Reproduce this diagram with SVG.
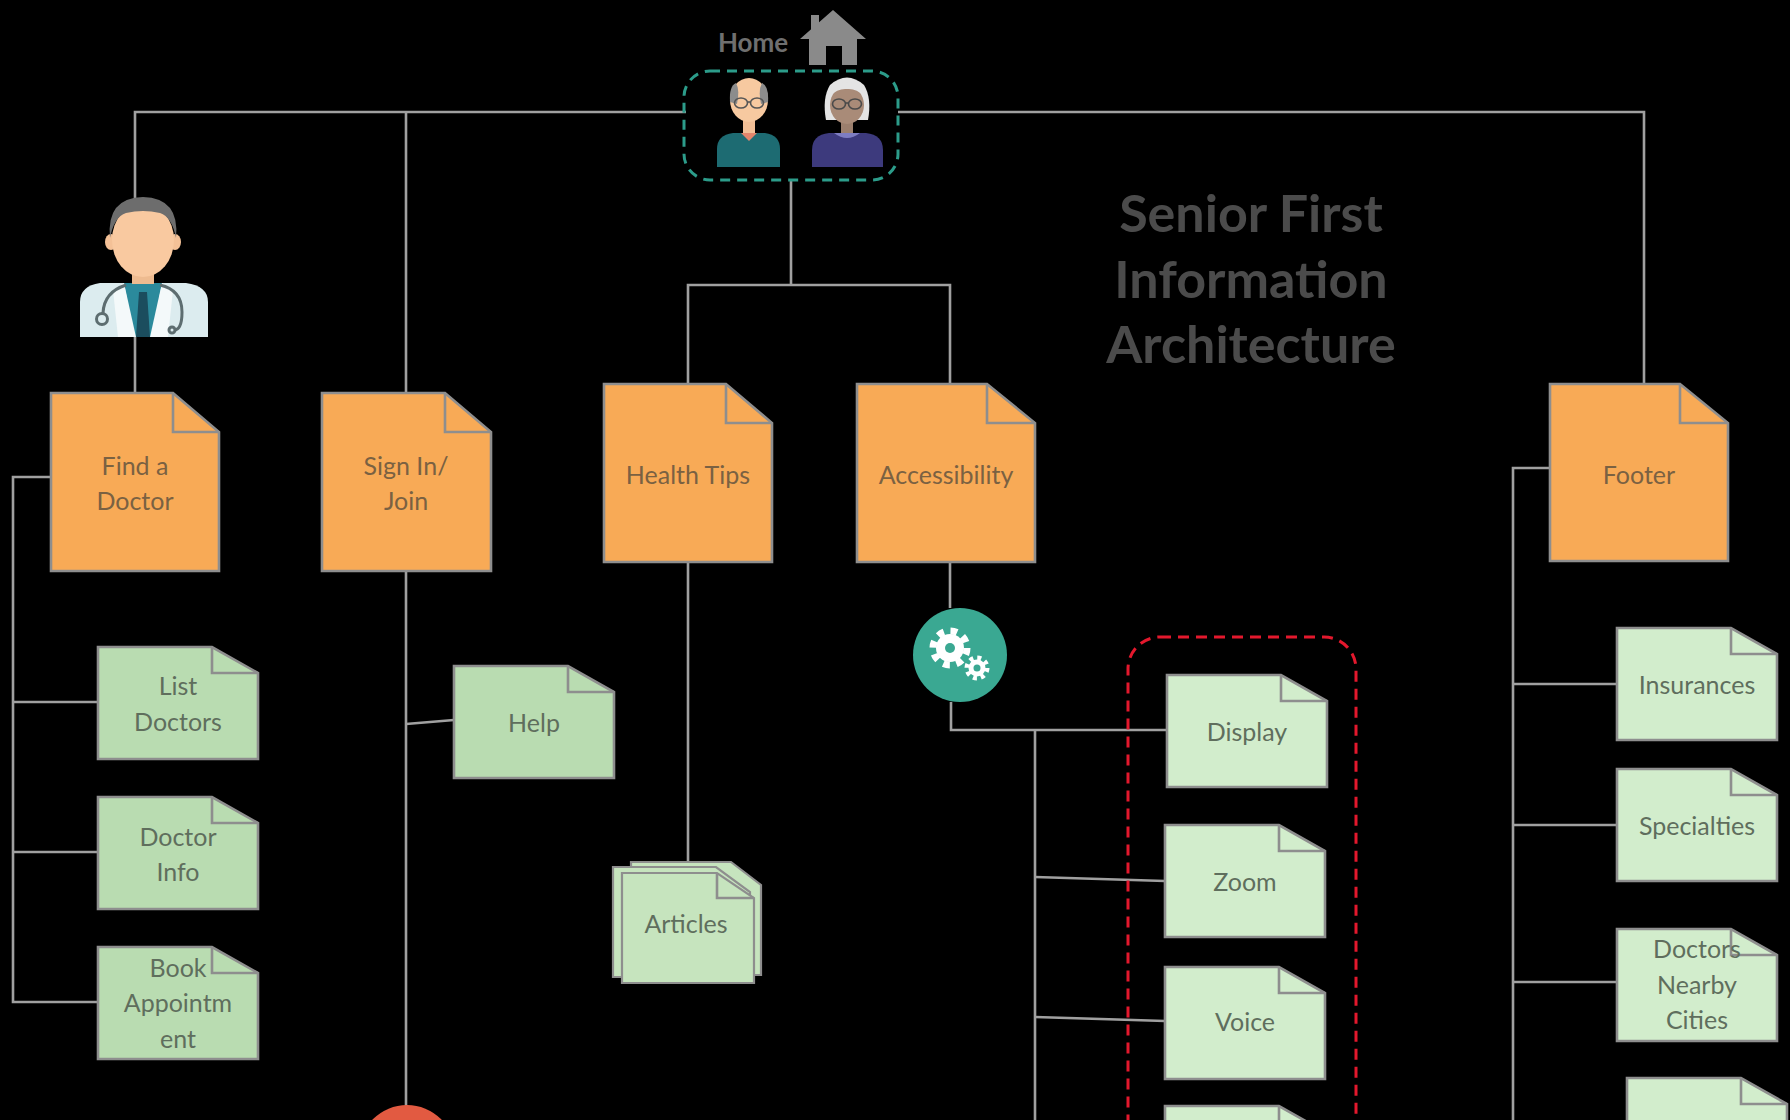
<svg xmlns="http://www.w3.org/2000/svg" width="1790" height="1120" viewBox="0 0 1790 1120">
  <style>
    .wire { fill: none; stroke: #a0a0a0; stroke-width: 2.6; }
    .page-o { fill: #F8AA56; stroke: #8e8e8e; stroke-width: 2.6; stroke-linejoin: miter; }
    .page-g { fill: #b9dcb1; stroke: #8e8e8e; stroke-width: 2.6; }
    .page-l { fill: #d2edcc; stroke: #8e8e8e; stroke-width: 2.6; }
    .page-a { fill: #c6e4be; stroke: #8e8e8e; stroke-width: 2.2; }
    .fold { fill: none; stroke: #8e8e8e; stroke-width: 2.6; }
    .lbl-o { font-family: Lato, "Liberation Sans", sans-serif; font-size: 25px; fill: #7a6142; text-anchor: middle; dominant-baseline: central; }
    .lbl-g { font-family: Lato, "Liberation Sans", sans-serif; font-size: 25px; fill: #5f6e5d; text-anchor: middle; dominant-baseline: central; }
    .title { font-family: Lato, "Liberation Sans", sans-serif; font-size: 52px; font-weight: bold; fill: #4b4b4b; text-anchor: middle; }
  </style>
  <defs>
    <path id="gpage" d="M0 0 H114 L160 26 V112 H0 Z"/>
    <path id="gfold" d="M114 0 V26 H160"/>
  </defs>
  <rect width="1790" height="1120" fill="#000"/>

  <!-- connectors -->
  <g id="connectors" class="wire">
    <path d="M135 394 V112 H686"/>
    <path d="M406 112 V394"/>
    <path d="M406 571 V1106"/>
    <path d="M898 112 H1644 V384"/>
    <path d="M791 180 V285"/>
    <path d="M688 384 V285 H950 V384"/>
    <path d="M51 477 H13 V1002 H98"/>
    <path d="M13 702 H98"/>
    <path d="M13 852 H98"/>
    <path d="M406 724 L454 720"/>
    <path d="M688 562 V862"/>
    <path d="M950 562 V608"/>
    <path d="M951 702 V730 H1167"/>
    <path d="M1035 730 V1120"/>
    <path d="M1035 877 L1165 881"/>
    <path d="M1035 1017 L1165 1021"/>
    <path d="M1550 468 H1513 V1120"/>
    <path d="M1513 684 H1617"/>
    <path d="M1513 825 H1617"/>
    <path d="M1513 982 H1617"/>
  </g>

  <!-- home: users group -->
  <g id="home">
    <text x="753" y="52" font-family="Lato, 'Liberation Sans', sans-serif" font-size="26" font-weight="bold" fill="#6f6f6f" text-anchor="middle">Home</text>
    <g fill="#8a8a8a">
      <rect x="811" y="15" width="8" height="16"/>
      <path d="M833 10 L866 39 H857 V65 H842 V46 H826 V65 H809 V39 H800 Z"/>
    </g>
    <rect x="684" y="71" width="214" height="109" rx="26" fill="none" stroke="#2c9c8a" stroke-width="3" stroke-dasharray="10 7"/>
    <!-- elderly man -->
    <g id="user-man">
      <path d="M717 167 V149 Q717 135 733 133 H765 Q780 135 780 149 V167 Z" fill="#1d6b72"/>
      <rect x="743" y="116" width="12" height="19" fill="#f2bf96"/>
      <path d="M741 133 L749 141 L757 133 Z" fill="#e3866c"/>
      <ellipse cx="749" cy="100" rx="19" ry="22" fill="#f7c9a0"/>
      <path d="M730 102 Q729 86 736 83 Q740 90 737 104 Z" fill="#8c8c8c"/>
      <path d="M768 102 Q769 86 762 83 Q758 90 761 104 Z" fill="#8c8c8c"/>
      <g fill="none" stroke="#555" stroke-width="1.6">
        <ellipse cx="741" cy="103" rx="6.5" ry="5"/>
        <ellipse cx="757" cy="103" rx="6.5" ry="5"/>
        <path d="M747.5 102 H750.5"/>
      </g>
    </g>
    <!-- elderly woman -->
    <g id="user-woman">
      <path d="M812 167 V150 Q812 135 829 133 H866 Q883 135 883 150 V167 Z" fill="#3d3a7d"/>
      <rect x="841" y="117" width="12" height="18" fill="#9c7f6d"/>
      <path d="M834 133 Q847 143 860 133 Z" fill="#7e7dc2"/>
      <path d="M826 120 Q822 98 830 85 Q847 70 864 85 Q872 98 868 120 Z" fill="#e4e4e4"/>
      <ellipse cx="847" cy="105" rx="17" ry="19" fill="#a98b78"/>
      <path d="M830 96 Q834 82 847 82 Q860 82 864 96 Q856 88 847 89 Q838 88 830 96 Z" fill="#e4e4e4"/>
      <g fill="none" stroke="#4a4a4a" stroke-width="1.6">
        <ellipse cx="839" cy="104" rx="6.5" ry="5"/>
        <ellipse cx="855" cy="104" rx="6.5" ry="5"/>
        <path d="M845.5 103 H848.5"/>
      </g>
    </g>
  </g>

  <!-- doctor persona -->
  <g id="doctor">
    <path d="M80 337 V302 Q80 286 100 283 L186 283 Q208 286 208 302 V337 Z" fill="#dcecef"/>
    <path d="M124 283 L162 283 L152 337 L134 337 Z" fill="#2b8a9c"/>
    <path d="M139 292 H147 L150 337 H136 Z" fill="#1b4d5e"/>
    <path d="M124 283 L136 337 L118 337 L113 290 Z" fill="#f4f9fa"/>
    <path d="M162 283 L150 337 L168 337 L173 290 Z" fill="#f4f9fa"/>
    <rect x="132" y="262" width="22" height="22" fill="#eebb90"/>
    <ellipse cx="111" cy="242" rx="6" ry="8" fill="#f4c197"/>
    <ellipse cx="175" cy="242" rx="6" ry="8" fill="#f4c197"/>
    <ellipse cx="143" cy="240" rx="31" ry="37" fill="#f9c9a0"/>
    <path d="M110 238 Q106 198 143 197 Q180 198 176 238 Q172 217 160 213 Q143 209 126 213 Q114 217 110 238 Z" fill="#6d6d6d"/>
    <g fill="none" stroke="#5d6d70" stroke-width="3">
      <path d="M126 285 Q104 292 103 313"/>
      <circle cx="102" cy="319" r="5.5"/>
      <path d="M160 285 Q182 290 182 312 Q182 330 174 330"/>
      <circle cx="172" cy="330" r="3"/>
    </g>
  </g>

  <!-- top level pages -->
  <g id="find-doctor">
    <path class="page-o" d="M51 393 H173 L219 432 V571 H51 Z"/>
    <path class="fold" d="M173 393 V432 H219"/>
    <text class="lbl-o" x="135" y="465">Find a</text>
    <text class="lbl-o" x="135" y="500">Doctor</text>
  </g>
  <g id="sign-in">
    <path class="page-o" d="M322 393 H445 L491 432 V571 H322 Z"/>
    <path class="fold" d="M445 393 V432 H491"/>
    <text class="lbl-o" x="406" y="465">Sign In/</text>
    <text class="lbl-o" x="406" y="500">Join</text>
  </g>
  <g id="health-tips">
    <path class="page-o" d="M604 384 H726 L772 423 V562 H604 Z"/>
    <path class="fold" d="M726 384 V423 H772"/>
    <text class="lbl-o" x="688" y="474">Health Tips</text>
  </g>
  <g id="accessibility">
    <path class="page-o" d="M857 384 H987 L1035 423 V562 H857 Z"/>
    <path class="fold" d="M987 384 V423 H1035"/>
    <text class="lbl-o" x="946" y="474">Accessibility</text>
  </g>
  <g id="footer">
    <path class="page-o" d="M1550 384 H1680 L1728 423 V561 H1550 Z"/>
    <path class="fold" d="M1680 384 V423 H1728"/>
    <text class="lbl-o" x="1639" y="474">Footer</text>
  </g>

  <text class="title" x="1251" y="232">Senior First</text>
  <text class="title" x="1251" y="298">Information</text>
  <text class="title" x="1251" y="363">Architecture</text>

  <!-- find a doctor children -->
  <g id="list-doctors" transform="translate(98 647)">
    <use href="#gpage" class="page-g"/><use href="#gfold" class="fold"/>
    <text class="lbl-g" x="80" y="38">List</text>
    <text class="lbl-g" x="80" y="74">Doctors</text>
  </g>
  <g id="doctor-info" transform="translate(98 797)">
    <use href="#gpage" class="page-g"/><use href="#gfold" class="fold"/>
    <text class="lbl-g" x="80" y="39">Doctor</text>
    <text class="lbl-g" x="80" y="74">Info</text>
  </g>
  <g id="book-appointment" transform="translate(98 947)">
    <use href="#gpage" class="page-g"/><use href="#gfold" class="fold"/>
    <text class="lbl-g" x="80" y="20">Book</text>
    <text class="lbl-g" x="80" y="55">Appointm</text>
    <text class="lbl-g" x="80" y="91">ent</text>
  </g>

  <!-- sign in children -->
  <g id="help" transform="translate(454 666)">
    <use href="#gpage" class="page-g"/><use href="#gfold" class="fold"/>
    <text class="lbl-g" x="80" y="56">Help</text>
  </g>
  <g id="signin-sub">
    <circle cx="407" cy="1153" r="48" fill="#e25a41"/>
  </g>

  <!-- health tips children -->
  <g id="articles">
    <path class="page-a" d="M631 862 H731 L761 885 V975 H631 Z"/>
    <path class="page-a" d="M613 867 H716 L750 892 V977 H613 Z"/>
    <path class="page-a" d="M622 873 H717 L754 898 V983 H622 Z"/>
    <path class="fold" stroke-width="2.2" d="M717 873 V898 H754"/>
    <text class="lbl-g" x="686" y="923">Articles</text>
  </g>

  <!-- accessibility settings -->
  <g id="settings">
    <circle cx="960" cy="655" r="47" fill="#3aa892"/>
    <g fill="#fff">
      <circle cx="950" cy="648" r="17" fill="none" stroke="#fff" stroke-width="7" stroke-dasharray="6.7 6.65"/>
      <circle cx="950" cy="648" r="14"/>
      <circle cx="950" cy="648" r="5" fill="#3aa892"/>
      <circle cx="977" cy="668" r="10" fill="none" stroke="#fff" stroke-width="5" stroke-dasharray="3.9 3.95"/>
      <circle cx="977" cy="668" r="8.5"/>
      <circle cx="977" cy="668" r="3.5" fill="#3aa892"/>
    </g>
  </g>
  <rect id="settings-group" x="1128" y="637" width="228" height="620" rx="32" fill="none" stroke="#e3182d" stroke-width="3" stroke-dasharray="11 7"/>
  <g id="display" transform="translate(1167 675)">
    <use href="#gpage" class="page-l"/><use href="#gfold" class="fold"/>
    <text class="lbl-g" x="80" y="56">Display</text>
  </g>
  <g id="zoom" transform="translate(1165 825)">
    <use href="#gpage" class="page-l"/><use href="#gfold" class="fold"/>
    <text class="lbl-g" x="80" y="56">Zoom</text>
  </g>
  <g id="voice" transform="translate(1165 967)">
    <use href="#gpage" class="page-l"/><use href="#gfold" class="fold"/>
    <text class="lbl-g" x="80" y="54">Voice</text>
  </g>
  <g id="settings-more" transform="translate(1165 1106)">
    <use href="#gpage" class="page-l"/><use href="#gfold" class="fold"/>
  </g>

  <!-- footer children -->
  <g id="insurances" transform="translate(1617 628)">
    <use href="#gpage" class="page-l"/><use href="#gfold" class="fold"/>
    <text class="lbl-g" x="80" y="56">Insurances</text>
  </g>
  <g id="specialties" transform="translate(1617 769)">
    <use href="#gpage" class="page-l"/><use href="#gfold" class="fold"/>
    <text class="lbl-g" x="80" y="56">Specialties</text>
  </g>
  <g id="doctors-nearby" transform="translate(1617 929)">
    <use href="#gpage" class="page-l"/><use href="#gfold" class="fold"/>
    <text class="lbl-g" x="80" y="19">Doctors</text>
    <text class="lbl-g" x="80" y="55">Nearby</text>
    <text class="lbl-g" x="80" y="90">Cities</text>
  </g>
  <g id="footer-more" transform="translate(1627 1078)">
    <use href="#gpage" class="page-l"/><use href="#gfold" class="fold"/>
  </g>
</svg>
